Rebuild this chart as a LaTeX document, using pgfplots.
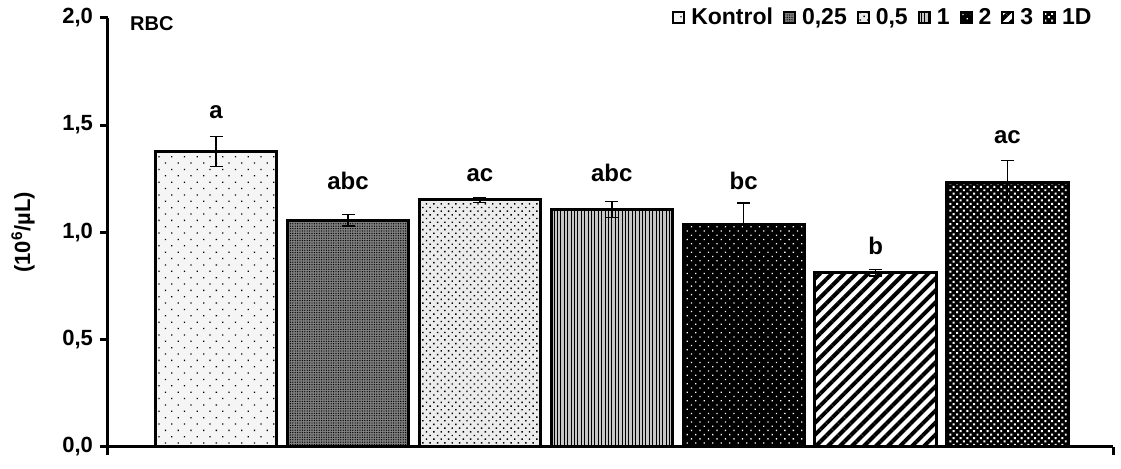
\documentclass[border=0pt]{standalone}
\usepackage{fontspec}
\setmainfont{Liberation Sans}
\usepackage{pgfplots}
\pgfplotsset{compat=1.18}
\usetikzlibrary{patterns.meta}
\pgfplotsset{
  mybar/.style={ybar, bar width=0.92, bar shift=0pt, draw=black, line width=1.5pt,
    legend image code/.code={\draw[##1, line width=1pt] (0pt,-2.75pt) rectangle (5.5pt,2.75pt);}},
}
\begin{document}
\begin{tikzpicture}
\path (-54pt,-9.5pt) rectangle (506.5pt,221.5pt);
\begin{axis}[
  at={(0pt,0pt)}, anchor=south west,
  scale only axis, width=502.5pt, height=214.5pt,
  xmin=-0.82, xmax=6.8, ymin=0, ymax=2,
  axis lines=left, axis line style={-, line width=1.5pt},
  xtick={-0.82,6.8}, xticklabels={},
  ytick={0,0.5,1,1.5,2},
  tick align=outside, major tick length=4pt,
  tick style={line width=1.5pt, black},
  yticklabel style={font=\bfseries\fontsize{11}{13}\selectfont,
    /pgf/number format/assume math mode=true, /pgf/number format/use comma,
    /pgf/number format/fixed, /pgf/number format/fixed zerofill, /pgf/number format/precision=1},
  ylabel={(10\textsuperscript{6}/µL)},
  ylabel style={at={(axis description cs:-0.0846,0.5)}, anchor=center, font=\bfseries\fontsize{11}{13}\selectfont},
  legend columns=-1,
  legend style={at={(axis description cs:0.989,1.0)}, anchor=east, draw=none, fill=none,
    font=\bfseries\fontsize{11.5}{13}\selectfont,
    /tikz/every odd column/.append style={column sep=1pt},
    /tikz/every even column/.append style={column sep=3pt}},
  clip=false,
]
\addplot[mybar, fill=gray!8, postaction={pattern={Dots[angle=45, distance=4.5pt, radius=0.45pt]}, pattern color=black}] coordinates {(0,1.378)};
\addlegendentry{Kontrol}
\addplot[mybar, fill=black!50, postaction={pattern={Dots[distance=1.2pt, radius=0.35pt]}, pattern color=black}] coordinates {(1,1.057)};
\addlegendentry{0,25}
\addplot[mybar, fill=gray!15, postaction={pattern={Dots[angle=45, distance=2.6pt, radius=0.5pt]}, pattern color=black}] coordinates {(2,1.151)};
\addlegendentry{0,5}
\addplot[mybar, fill=gray!45, postaction={pattern={Lines[angle=90, distance=1.7pt, line width=0.5pt]}, pattern color=black}] coordinates {(3,1.107)};
\addlegendentry{1}
\addplot[mybar, fill=black, postaction={pattern={Dots[angle=45, distance=3pt, radius=0.45pt]}, pattern color=white}] coordinates {(4,1.035)};
\addlegendentry{2}
\addplot[mybar, fill=white, postaction={pattern={Lines[angle=45, distance=4.25pt, line width=2pt]}, pattern color=black}] coordinates {(5,0.811)};
\addlegendentry{3}
\addplot[mybar, fill=black, postaction={pattern={Dots[angle=45, distance=2.4pt, radius=0.7pt]}, pattern color=white}] coordinates {(6,1.230)};
\addlegendentry{1D}
\addplot[draw=none, forget plot, error bars/.cd, y dir=both, y explicit,
  error bar style={draw=black, line width=0.7pt},
  error mark options={draw=black, rotate=90, mark size=3.25pt, line width=0.7pt}]
  table[x=x, y=y, y error=e] {
x y e
0 1.378 0.070
1 1.057 0.027
2 1.151 0.011
3 1.107 0.037
4 1.035 0.102
5 0.811 0.015
6 1.230 0.104
};
\addplot[draw=none, forget plot, nodes near coords, point meta=explicit symbolic,
  nodes near coords style={anchor=base, inner sep=0pt, text=black, font=\bfseries\fontsize{12}{14}\selectfont}]
  table[x=x, y=y, meta=lab] {
x y lab
0 1.529 a
1 1.198 abc
2 1.235 ac
3 1.235 abc
4 1.198 bc
5 0.895 b
6 1.413 ac
};
\node[anchor=west, font=\bfseries\fontsize{10}{12}\selectfont] at (rel axis cs:0.015,0.986) {RBC};
\end{axis}
\end{tikzpicture}
\end{document}
